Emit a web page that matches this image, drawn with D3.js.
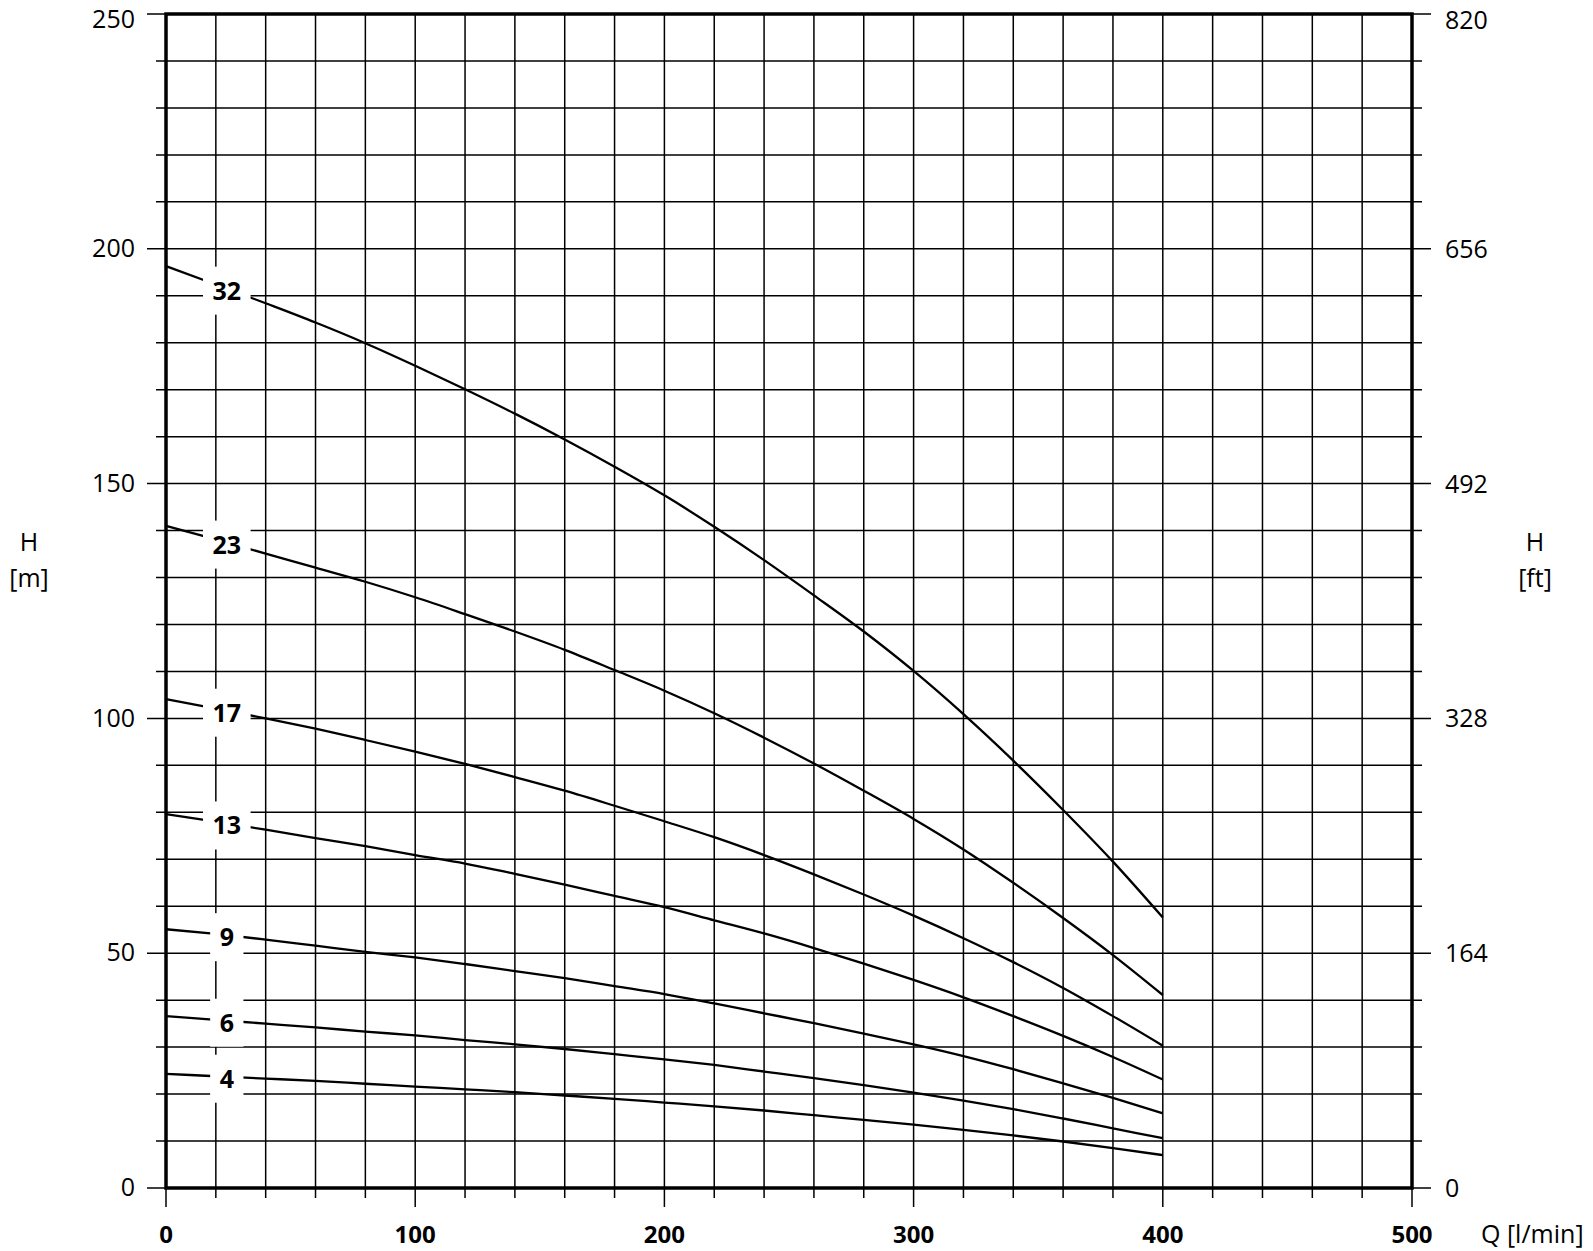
<!DOCTYPE html>
<html>
<head>
<meta charset="utf-8">
<script src="https://cdn.jsdelivr.net/npm/d3@7"></script>
<style>
	body{margin:0;background:#fff;}
	text{font-family:"Open Sans", "DejaVu Sans", sans-serif;fill:#000;}
</style>
</head>
<body>
<svg id="chart" width="1593" height="1251"></svg>
<script>
"use strict";

//flow points the curves were read at (l/min)
var flowQ = [0, 20, 40, 60, 80, 100, 120, 140, 160, 180, 200, 220, 240, 260, 280, 300, 320, 340, 360, 380, 400];

//head in metres for every pump size
var head32 = [196.3, 192.4, 188.4, 184.3, 179.9, 175.1, 170.1, 164.9, 159.4, 153.6, 147.5, 140.8, 133.7, 126.2, 118.5, 110.1, 100.9, 91.0, 80.5, 69.5, 57.6];
var head23 = [141.0, 138.1, 135.1, 132.1, 129.1, 125.8, 122.2, 118.5, 114.6, 110.3, 105.9, 101.1, 95.9, 90.4, 84.6, 78.6, 72.1, 65.0, 57.5, 49.6, 41.1];
var head17 = [104.1, 102.1, 100.0, 97.8, 95.4, 92.9, 90.3, 87.5, 84.6, 81.4, 78.1, 74.7, 70.9, 66.8, 62.5, 58.0, 53.2, 48.1, 42.6, 36.6, 30.3];
var head13 = [79.6, 78.0, 76.3, 74.5, 72.8, 70.9, 69.1, 66.9, 64.6, 62.2, 59.8, 57.0, 54.2, 51.1, 47.8, 44.3, 40.6, 36.6, 32.4, 27.9, 23.1];
var head9 = [55.1, 54.1, 52.9, 51.6, 50.3, 49.1, 47.7, 46.2, 44.7, 43.0, 41.3, 39.3, 37.2, 35.1, 32.9, 30.6, 28.1, 25.3, 22.3, 19.2, 15.9];
var head6 = [36.6, 35.8, 35.0, 34.2, 33.3, 32.5, 31.5, 30.6, 29.6, 28.5, 27.4, 26.2, 24.8, 23.4, 21.9, 20.3, 18.6, 16.8, 14.8, 12.7, 10.6];
var head4 = [24.3, 23.8, 23.3, 22.8, 22.2, 21.6, 21.0, 20.4, 19.7, 19.0, 18.2, 17.4, 16.5, 15.5, 14.5, 13.5, 12.4, 11.2, 9.9, 8.5, 7.0];

var stageNames = ["32", "23", "17", "13", "9", "6", "4"];
var headCurves = [head32, head23, head17, head13, head9, head6, head4];

//tick labels
var headTicks = [0, 50, 100, 150, 200, 250];
var feetLabels = ["0", "164", "328", "492", "656", "820"];
var flowTicks = [0, 100, 200, 300, 400, 500];

//flow where the size labels sit on their curve
var labelFlow = 24.4;

var svg = d3.select("#chart");

var plotLeft = 166, plotRight = 1412, plotTop = 14, plotBottom = 1188;

var x = d3.scaleLinear().domain([0, 500]).range([plotLeft, plotRight]);
var y = d3.scaleLinear().domain([0, 250]).range([plotBottom, plotTop]);

//vertical grid lines, running past the bottom as ticks
svg.append("g").selectAll("line")
	.data(d3.range(0, 501, 20))
	.enter()
	.append("line")
	.style("stroke", "black")
	.style("stroke-width", "1.5px")
	.attr("x1", function(d){ return x(d)})
	.attr("x2", function(d){ return x(d)})
	.attr("y1", plotTop)
	.attr("y2", function(d){ return plotBottom + (d % 100 == 0 ? 19 : 10)});

//horizontal grid lines, running past both sides as ticks
svg.append("g").selectAll("line")
	.data(d3.range(0, 251, 10))
	.enter()
	.append("line")
	.style("stroke", "black")
	.style("stroke-width", "1.5px")
	.attr("x1", function(d){ return plotLeft - (d % 50 == 0 ? 19 : 10)})
	.attr("x2", function(d){ return plotRight + (d % 50 == 0 ? 19 : 10)})
	.attr("y1", function(d){ return y(d)})
	.attr("y2", function(d){ return y(d)});

//heavy frame
svg.append("rect")
	.style("fill", "none")
	.style("stroke", "black")
	.style("stroke-width", "3.5px")
	.attr("x", plotLeft)
	.attr("y", plotTop)
	.attr("width", plotRight - plotLeft)
	.attr("height", plotBottom - plotTop);

//pump curves
var line = d3.line()
	.x(function(d, i){ return x(flowQ[i])})
	.y(function(d){ return y(d)})
	.curve(d3.curveMonotoneX);

svg.append("g").selectAll("path")
	.data(headCurves)
	.enter()
	.append("path")
	.style("fill", "none")
	.style("stroke", "black")
	.style("stroke-width", "2.3px")
	.attr("d", line);

//size labels, each on a white patch that breaks the curve and grid
function headAt(curve, q){
	var i = d3.bisectRight(flowQ, q) - 1;
	var t = (q - flowQ[i]) / (flowQ[i + 1] - flowQ[i]);
	return curve[i] + (curve[i + 1] - curve[i]) * t;
}

var labelGroups = svg.append("g").selectAll("g")
	.data(headCurves)
	.enter()
	.append("g")
	.attr("transform", function(d){ return "translate(" + x(labelFlow) + "," + (y(headAt(d, labelFlow)) + 2) + ")"});

var labelBoxes = labelGroups.append("rect").style("fill", "white");

var labelTexts = labelGroups.append("text")
	.style("font-size", "25px")
	.style("font-weight", "bold")
	.attr("text-anchor", "middle")
	.attr("dy", "0.36em")
	.text(function(d, i){ return stageNames[i]});

labelBoxes.each(function(d, i){
	var w = labelTexts.nodes()[i].getBBox().width;
	d3.select(this)
		.attr("x", -w/2 - 9.5)
		.attr("y", -24)
		.attr("width", w + 19)
		.attr("height", 48);
});

//the top labels sit a little lower than their tick so they stay on the page
function labelY(d){
	return Math.max(y(d), plotTop + 6);
}

//left axis labels in metres
svg.append("g").selectAll("text")
	.data(headTicks)
	.enter()
	.append("text")
	.style("font-size", "25px")
	.attr("text-anchor", "end")
	.attr("x", 135)
	.attr("y", labelY)
	.attr("dy", "0.33em")
	.text(function(d){ return d});

//right axis labels in feet
svg.append("g").selectAll("text")
	.data(headTicks)
	.enter()
	.append("text")
	.style("font-size", "25px")
	.attr("text-anchor", "start")
	.attr("x", 1445)
	.attr("y", labelY)
	.attr("dy", "0.36em")
	.text(function(d, i){ return feetLabels[i]});

//bottom axis labels
svg.append("g").selectAll("text")
	.data(flowTicks)
	.enter()
	.append("text")
	.style("font-size", "24px")
	.style("font-weight", "bold")
	.attr("text-anchor", "middle")
	.attr("x", function(d){ return x(d)})
	.attr("y", 1243)
	.text(function(d){ return d});

//axis titles
svg.append("text")
	.style("font-size", "25px")
	.attr("x", 1481)
	.attr("y", 1243)
	.text("Q [l/min]");

svg.append("text").style("font-size", "25px").attr("text-anchor", "middle")
	.attr("x", 29).attr("y", 551).text("H");
svg.append("text").style("font-size", "25px").attr("text-anchor", "middle")
	.attr("x", 29).attr("y", 587).text("[m]");
svg.append("text").style("font-size", "25px").attr("text-anchor", "middle")
	.attr("x", 1535).attr("y", 551).text("H");
svg.append("text").style("font-size", "25px").attr("text-anchor", "middle")
	.attr("x", 1535).attr("y", 587).text("[ft]");
</script>
</body>
</html>
